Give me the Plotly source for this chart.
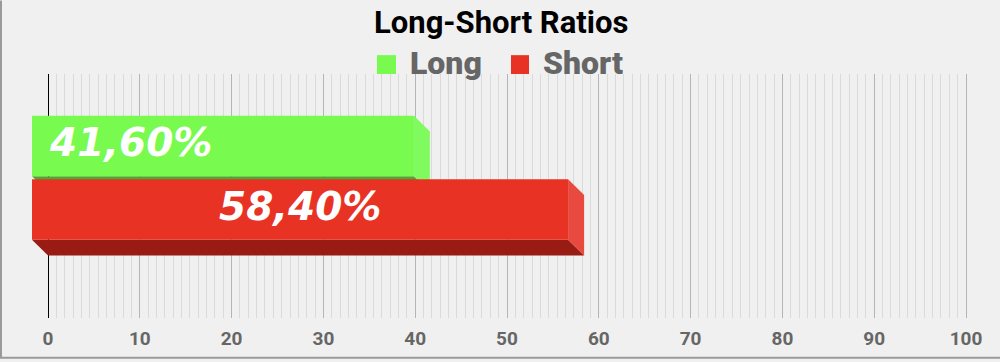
import plotly.graph_objects as go

# ---------------- data ----------------
categories = ["Long", "Short"]
values = [41.60, 58.40]
front_colors = ["#78fa4e", "#e83324"]
side_colors = ["#80fb5f", "#e84a3f"]
bottom_colors = ["#4ea62f", "#981c14"]
label_anchor = ["left", "center"]
x_ticks = list(range(0, 101, 10))
title_text = "Long-Short Ratios"

# ---------------- geometry helpers ----------------
W_PX, H_PX = 1000, 362
ML, MR, MT, MB = 20, 25, 74, 42
plot_w = W_PX - ML - MR
plot_h = H_PX - MT - MB
px_per_unit = 9.18
x_lo = -(48 - ML) / px_per_unit
x_hi = x_lo + plot_w / px_per_unit
y_lo, y_hi = -0.51, 0.49
y_per_px = (y_hi - y_lo) / plot_h

bar_h = 61 * y_per_px
gap = 3 * y_per_px
dx = 16 / px_per_unit
dy = 16 * y_per_px
label_lift = 3 * y_per_px


def px_x(px):
    return (px - ML) / plot_w


def px_y(py):
    return (MT + plot_h - py) / plot_h


fig = go.Figure()

annotations = []
for i, (cat, v) in enumerate(zip(categories, values)):
    if i == 0:
        yb = gap / 2
        yt = yb + bar_h
    else:
        yt = -gap / 2
        yb = yt - bar_h
    polys = [
        ([-dx, v - dx, v, 0, -dx], [yb + dy, yb + dy, yb, yb, yb + dy], bottom_colors[i]),
        ([v - dx, v, v, v - dx, v - dx], [yt + dy, yt, yb, yb + dy, yt + dy], side_colors[i]),
        ([-dx, v - dx, v - dx, -dx, -dx], [yb + dy, yb + dy, yt + dy, yt + dy, yb + dy], front_colors[i]),
    ]
    for xs, ys, col in polys:
        fig.add_trace(go.Scatter(
            x=xs, y=ys, mode="lines", fill="toself", fillcolor=col,
            line=dict(width=0, color=col), hoverinfo="skip", showlegend=False,
            name=cat,
        ))
    label = f"{v:.2f}%".replace(".", ",")
    if label_anchor[i] == "left":
        lx = -dx + 15 / px_per_unit
    else:
        lx = (v - 2 * dx) / 2
    annotations.append(dict(
        x=lx, y=(yt + yb) / 2 + dy + label_lift, xref="x", yref="y", text=label,
        showarrow=False, xanchor=label_anchor[i], yanchor="middle",
        font=dict(family="DejaVu Sans", size=39, color="white", weight="bold", style="italic"),
    ))

# ---------------- legend (custom) ----------------
leg_sq = [(377, 396), (511, 529)]
leg_txt_x = [408, 541]
shapes = []
for i, cat in enumerate(categories):
    x0, x1 = leg_sq[i]
    shapes.append(dict(type="rect", xref="paper", yref="paper",
                       x0=px_x(x0), x1=px_x(x1), y0=px_y(74), y1=px_y(55),
                       fillcolor=front_colors[i], line=dict(width=0)))
    annotations.append(dict(
        x=px_x(leg_txt_x[i]), y=px_y(63), xref="paper", yref="paper", text=cat,
        showarrow=False, xanchor="left", yanchor="middle",
        font=dict(family="Roboto", size=32, color="#666666", weight=900),
    ))

# outer border (left and bottom)
shapes.append(dict(type="line", xref="paper", yref="paper",
                   x0=px_x(1), x1=px_x(1), y0=px_y(0), y1=px_y(360),
                   line=dict(color="#9a9a9a", width=2)))
shapes.append(dict(type="line", xref="paper", yref="paper",
                   x0=px_x(0), x1=px_x(1000), y0=px_y(360), y1=px_y(360),
                   line=dict(color="#9a9a9a", width=2)))

annotations.append(dict(
    x=px_x(501), y=px_y(22), xref="paper", yref="paper", text=title_text,
    showarrow=False, xanchor="center", yanchor="middle",
    font=dict(family="Roboto", size=31, color="#000000", weight="bold"),
))

minor_vals = [k * 10 / 11 for k in range(0, 111)]

fig.update_layout(
    width=W_PX, height=H_PX,
    margin=dict(l=ML, r=MR, t=MT, b=MB),
    paper_bgcolor="#f0f0f0", plot_bgcolor="#f0f0f0",
    showlegend=False,
    annotations=annotations,
    shapes=shapes,
    xaxis=dict(
        range=[x_lo, x_hi], tickmode="array", tickvals=x_ticks,
        ticktext=[str(t) for t in x_ticks],
        showgrid=True, gridcolor="#b5b5b5", gridwidth=1,
        zeroline=True, zerolinecolor="#000000", zerolinewidth=1,
        showline=False, ticks="", ticklabelstandoff=7,
        tickfont=dict(family="Roboto", size=19, color="#666666", weight="bold"),
        minor=dict(tickmode="array", tickvals=minor_vals, showgrid=True,
                   gridcolor="#dadada", gridwidth=1, ticks=""),
        fixedrange=True,
    ),
    yaxis=dict(range=[y_lo, y_hi], showgrid=False, zeroline=False,
               showticklabels=False, showline=False, fixedrange=True),
)

fig.write_html("out.html")
